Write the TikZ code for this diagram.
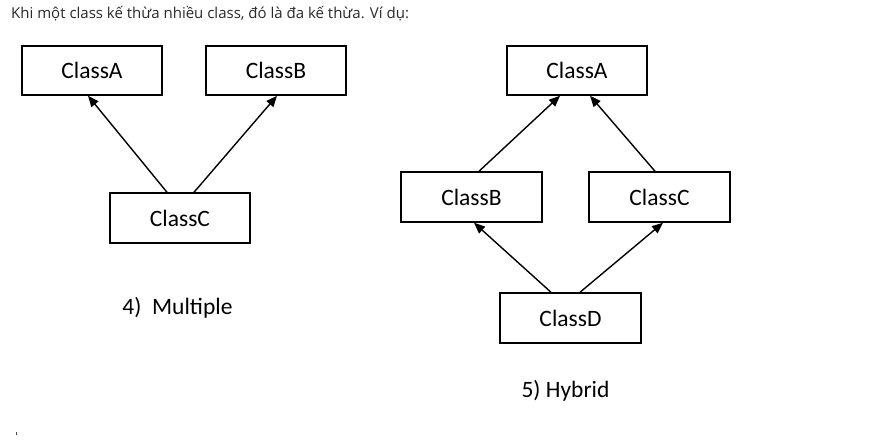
\documentclass[tikz,border=0pt]{standalone}
\usepackage{fontspec}
\setmainfont{Carlito}
\newfontfamily\headfont{Open Sans}
\usetikzlibrary{arrows.meta}
\definecolor{headgray}{HTML}{2A2A2A}
\tikzset{
  cls/.style={draw=black, line width=1.5pt, minimum width=140pt, minimum height=49pt, inner sep=0pt, font=\fontsize{23.5}{26}\selectfont},
  inh/.style={line width=1.4pt, -{Triangle[length=11pt,width=9pt]}},
  caption/.style={inner sep=0pt, font=\fontsize{23.5}{26}\selectfont}
}
\begin{document}
\begin{tikzpicture}[x=1pt,y=-1pt]
\useasboundingbox (0,0) rectangle (881,447);
\fill[white] (0,0) rectangle (881,447);
\node[inner sep=0pt, anchor=base west, text=headgray, font=\headfont\fontsize{15}{17}\selectfont] (head) at (11,18) {Khi một class kế thừa nhiều class, đó là đa kế thừa. Ví dụ:};
% Multiple
\node[cls] (la) at (92,70.5) {ClassA};
\node[cls] (lb) at (276,70.5) {ClassB};
\node[cls, minimum height=50pt] (lc) at (180,218) {ClassC};
\draw[inh] ([xshift=-13pt]lc.north) -- ([xshift=-4pt]la.south);
\draw[inh] ([xshift=14pt]lc.north) -- ([xshift=1pt]lb.south);
\node[caption] (cap4) at (177.5,308) {4)\ \ Multiple};
% Hybrid
\node[cls] (ra) at (577,70.5) {ClassA};
\node[cls, minimum width=141pt, minimum height=50pt] (rb) at (471.5,197) {ClassB};
\node[cls, minimum width=141pt, minimum height=50pt] (rc) at (659.5,197) {ClassC};
\node[cls, minimum width=141pt, minimum height=50pt] (rd) at (570.5,318) {ClassD};
\draw[inh] ([xshift=7.5pt]rb.north) -- ([xshift=-17pt]ra.south);
\draw[inh] ([xshift=-4.5pt]rc.north) -- ([xshift=13pt]ra.south);
\draw[inh] ([xshift=-19.5pt]rd.north) -- ([xshift=2.5pt]rb.south);
\draw[inh] ([xshift=9.5pt]rd.north) -- ([xshift=3.5pt]rc.south);
\node[caption] (cap5) at (565.5,391) {5) Hybrid};
% small mark
\coordinate (m1) at (16,431.5);
\coordinate (m2) at (16,435);
\draw[line width=1pt, black!70] (m1) -- (m2);
\end{tikzpicture}
\end{document}
